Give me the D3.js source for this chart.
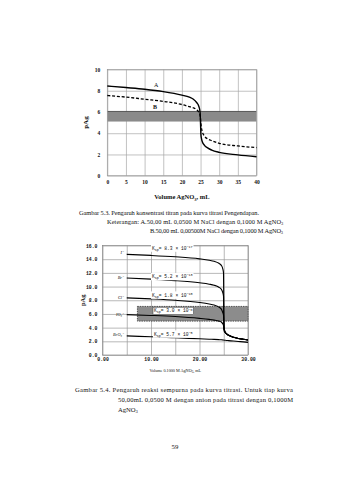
<!DOCTYPE html>
<html>
<head>
<meta charset="utf-8">
<script src="https://cdn.jsdelivr.net/npm/d3@7"></script>
<style>
  html, body { margin: 0; padding: 0; background: #fff; }
  svg { display: block; }
  text { fill: #111; }
</style>
</head>
<body>
<svg id="page" width="339" height="480"></svg>
<script>
// ---------- Figure 5.3: effect of titrant concentration ----------
const volA = [0, 5, 10, 15, 20, 22, 23, 24, 24.5, 24.8, 24.9, 25, 25.1, 25.2, 25.5, 26, 27, 28, 30, 35, 40];
const pAgA = [8.45, 8.3, 8.14, 7.92, 7.59, 7.4, 7.22, 6.87, 6.57, 6.17, 5.87, 4.87, 3.88, 3.58, 3.18, 2.88, 2.59, 2.41, 2.2, 1.96, 1.78];
const pAgB = [7.55, 7.4, 7.2, 7.0, 6.7, 6.5, 6.4, 6.2, 6.0, 5.8, 5.6, 5.3, 4.9, 4.6, 4.1, 3.75, 3.45, 3.3, 3.05, 2.8, 2.65];
const fig1XTicks = [0, 5, 10, 15, 20, 25, 30, 35, 40];
const fig1YTicks = [0, 2, 4, 6, 8, 10];
const fig1Band = [5.1, 6.05];          // indicator transition range (pAg)

// ---------- Figure 5.4: effect of reaction completeness ----------
const vol2 = [5, 10, 15, 20, 22, 23, 24, 24.5, 24.8, 24.95, 25, 25.05, 25.2, 25.5, 26, 27, 28, 29, 30];
const pAgI    = [14.7, 14.55, 14.35, 14.05, 13.85, 13.7, 13.4, 13.1, 12.6, 12.0, 8.0, 4.1, 3.5, 3.15, 2.88, 2.6, 2.42, 2.3, 2.2];
const pAgBr   = [11.25, 11.08, 10.87, 10.55, 10.35, 10.2, 9.9, 9.6, 9.1, 8.6, 6.1, 4.1, 3.5, 3.15, 2.88, 2.6, 2.42, 2.3, 2.2];
const pAgCl   = [8.35, 8.2, 8.0, 7.67, 7.45, 7.3, 7.0, 6.7, 6.2, 5.8, 4.9, 4.1, 3.5, 3.15, 2.88, 2.6, 2.42, 2.3, 2.2];
const pAgIO3  = [5.9, 5.78, 5.62, 5.35, 5.2, 5.1, 4.95, 4.8, 4.55, 4.3, 3.8, 3.55, 3.35, 3.12, 2.88, 2.6, 2.42, 2.3, 2.2];
const pAgBrO3 = [2.8, 2.66, 2.52, 2.37, 2.31, 2.28, 2.24, 2.22, 2.2, 2.19, 2.18, 2.17, 2.16, 2.13, 2.1, 2.04, 1.98, 1.92, 1.85];
const anions = ["I\u207B", "Br\u207B", "Cl\u207B", "IO\u2083\u207B", "BrO\u2083\u207B"];
const kspMantissa = ["8.3", "5.2", "1.8", "3.0", "5.7"];
const kspExponent = ["\u221217", "\u221213", "\u221210", "\u22128", "\u22125"];
const fig2XTicks = [0, 10, 20, 30];
const fig2XGrid = [0, 5, 10, 15, 20, 25, 30];
const fig2YTicks = [0, 2, 4, 6, 8, 10, 12, 14, 16];
const fig2Band = [4.95, 7.1];          // indicator transition range (pAg)
const fig2BandStart = 7.2;             // mL

const svg = d3.select("#page");
const serif = "'Liberation Serif', 'Times New Roman', serif";
const mono = "'Liberation Mono', 'DejaVu Sans Mono', monospace";

// ================= Figure 5.3 =================
{
  const x = d3.scaleLinear().domain([0, 40]).range([107.3, 256.5]);
  const y = d3.scaleLinear().domain([0, 10]).range([175.7, 69.5]);
  const g = svg.append("g");

  // grid
  g.append("g").attr("transform", `translate(0,${y(0)})`)
    .call(d3.axisBottom(x).tickValues(fig1XTicks).tickSize(-(y(0) - y(10))).tickFormat(""))
    .call(a => a.select(".domain").remove())
    .call(a => a.selectAll("line").attr("stroke", "#a8a8a8").attr("stroke-width", 0.7));
  g.append("g").attr("transform", `translate(${x(0)},0)`)
    .call(d3.axisLeft(y).tickValues(fig1YTicks).tickSize(-(x(40) - x(0))).tickFormat(""))
    .call(a => a.select(".domain").remove())
    .call(a => a.selectAll("line").attr("stroke", "#a8a8a8").attr("stroke-width", 0.7));

  // transition band
  g.append("rect")
    .attr("x", x(0)).attr("width", x(40) - x(0))
    .attr("y", y(fig1Band[1])).attr("height", y(fig1Band[0]) - y(fig1Band[1]))
    .attr("fill", "#8a8a8a");
  g.append("line")
    .attr("x1", x(0)).attr("x2", x(40))
    .attr("y1", y(fig1Band[1])).attr("y2", y(fig1Band[1]))
    .attr("stroke", "#4a4a4a").attr("stroke-width", 0.9);

  // frame
  g.append("rect").attr("x", x(0)).attr("y", y(10))
    .attr("width", x(40) - x(0)).attr("height", y(0) - y(10))
    .attr("fill", "none").attr("stroke", "#999").attr("stroke-width", 0.7);

  // tick labels
  g.append("g").attr("transform", `translate(0,${y(0)})`)
    .call(d3.axisBottom(x).tickValues(fig1XTicks).tickSize(0).tickPadding(4))
    .call(a => a.select(".domain").remove())
    .call(a => a.selectAll("text").attr("font-family", serif).attr("font-size", 5.5).attr("font-weight", "bold").attr("fill", "#111"));
  g.append("g").attr("transform", `translate(${x(0)},0)`)
    .call(d3.axisLeft(y).tickValues(fig1YTicks).tickSize(0).tickPadding(7))
    .call(a => a.select(".domain").remove())
    .call(a => a.selectAll("text").attr("font-family", serif).attr("font-size", 5.5).attr("font-weight", "bold").attr("fill", "#111"));

  // curves
  const line = d3.line().x(d => x(d[0])).y(d => y(d[1])).curve(d3.curveMonotoneX);
  g.append("path").datum(d3.zip(volA, pAgA)).attr("d", line)
    .attr("fill", "none").attr("stroke", "#000").attr("stroke-width", 1.4);
  g.append("path").datum(d3.zip(volA, pAgB)).attr("d", line)
    .attr("fill", "none").attr("stroke", "#000").attr("stroke-width", 1.3)
    .attr("stroke-dasharray", "3,1.8");

  g.append("text").attr("x", 154).attr("y", 87).attr("font-family", serif).attr("font-size", 6).text("A");
  g.append("text").attr("x", 153).attr("y", 109).attr("font-family", serif).attr("font-size", 6).attr("font-weight", "bold").text("B");

  // axis titles
  g.append("text").attr("transform", `translate(88,${(y(0) + y(10)) / 2}) rotate(-90)`)
    .attr("text-anchor", "middle").attr("font-family", serif).attr("font-size", 7).attr("font-weight", "bold").text("pAg");
  const xt = g.append("text").attr("x", (x(0) + x(40)) / 2).attr("y", 199)
    .attr("text-anchor", "middle").attr("font-family", serif).attr("font-size", 6.5).attr("font-weight", "bold");
  xt.append("tspan").text("Volume AgNO");
  xt.append("tspan").attr("font-size", 4.5).attr("dy", 1.5).text("3");
  xt.append("tspan").attr("dy", -1.5).text(", mL");
}

// caption 5.3
{
  const c = svg.append("g").attr("font-family", serif).attr("font-size", 6.4);
  c.append("text").attr("x", 79).attr("y", 215).attr("textLength", 180).attr("lengthAdjust", "spacing")
    .text("Gambar 5.3. Pengaruh konsentrasi titran pada kurva titrasi Pengendapan.");
  const l2 = c.append("text").attr("x", 107).attr("y", 224);
  l2.append("tspan").attr("textLength", 174).attr("lengthAdjust", "spacing")
    .text("Keterangan: A.50,00 mL 0,0500 M NaCl dengan 0,1000 M AgNO");
  l2.append("tspan").attr("font-size", 4.4).attr("dy", 1.3).text("3");
  const l3 = c.append("text").attr("x", 150).attr("y", 233);
  l3.append("tspan").attr("textLength", 131).attr("lengthAdjust", "spacing")
    .text("B.50,00 mL 0,00500M NaCl dengan 0,1000 M AgNO");
  l3.append("tspan").attr("font-size", 4.4).attr("dy", 1.3).text("3");
}

// ================= Figure 5.4 =================
{
  const x = d3.scaleLinear().domain([0, 30]).range([102.5, 248]);
  const y = d3.scaleLinear().domain([0, 16]).range([355, 245.5]);
  const g = svg.append("g");

  g.append("g").attr("transform", `translate(0,${y(0)})`)
    .call(d3.axisBottom(x).tickValues(fig2XGrid).tickSize(-(y(0) - y(16))).tickFormat(""))
    .call(a => a.select(".domain").remove())
    .call(a => a.selectAll("line").attr("stroke", "#9a9a9a").attr("stroke-width", 0.7));
  g.append("g").attr("transform", `translate(${x(0)},0)`)
    .call(d3.axisLeft(y).tickValues(fig2YTicks).tickSize(-(x(30) - x(0))).tickFormat(""))
    .call(a => a.select(".domain").remove())
    .call(a => a.selectAll("line").attr("stroke", "#9a9a9a").attr("stroke-width", 0.7));

  // transition band
  g.append("rect")
    .attr("x", x(fig2BandStart)).attr("width", x(30) - x(fig2BandStart))
    .attr("y", y(fig2Band[1])).attr("height", y(fig2Band[0]) - y(fig2Band[1]))
    .attr("fill", "#8c8c8c").attr("stroke", "#333").attr("stroke-width", 0.8)
    .attr("stroke-dasharray", "1.4,1");

  g.append("rect").attr("x", x(0)).attr("y", y(16))
    .attr("width", x(30) - x(0)).attr("height", y(0) - y(16))
    .attr("fill", "none").attr("stroke", "#888").attr("stroke-width", 0.7);

  g.append("g").attr("transform", `translate(0,${y(0)})`)
    .call(d3.axisBottom(x).tickValues(fig2XTicks).tickSize(0).tickPadding(3).tickFormat(d3.format(".2f")))
    .call(a => a.select(".domain").remove())
    .call(a => a.selectAll("text").attr("font-family", mono).attr("font-size", 4.8).attr("font-weight", "bold").attr("fill", "#222"));
  g.append("g").attr("transform", `translate(${x(0)},0)`)
    .call(d3.axisLeft(y).tickValues(fig2YTicks).tickSize(0).tickPadding(5).tickFormat(d3.format(".1f")))
    .call(a => a.select(".domain").remove())
    .call(a => a.selectAll("text").attr("font-family", mono).attr("font-size", 4.8).attr("font-weight", "bold").attr("fill", "#222"));

  // curves
  const series = [pAgI, pAgBr, pAgCl, pAgIO3, pAgBrO3];
  const line = d3.line().x(d => x(d[0])).y(d => y(d[1])).curve(d3.curveMonotoneX);
  series.forEach(s => {
    g.append("path").datum(d3.zip(vol2, s)).attr("d", line)
      .attr("fill", "none").attr("stroke", "#000").attr("stroke-width", 1.1);
  });

  // anion labels at the start of each curve
  const anionY = [253.5, 279, 298.5, 315.5, 336];
  anions.forEach((a, i) => {
    g.append("text").attr("x", 123).attr("y", anionY[i])
      .attr("text-anchor", "end").attr("font-family", serif).attr("font-style", "italic")
      .attr("font-size", 4.3).attr("fill", "#333").text(a);
  });

  // Ksp labels
  const kspY = [249.5, 278, 296.5, 312.3, 335.5];
  const kspX = [152, 152, 152, 154, 154];
  kspMantissa.forEach((m, i) => {
    const t = g.append("text").attr("x", kspX[i]).attr("y", kspY[i])
      .attr("font-family", mono).attr("font-size", 4.6).attr("fill", "#222");
    t.append("tspan").text("K");
    t.append("tspan").attr("font-size", 3.4).attr("dy", 1).text("sp");
    t.append("tspan").attr("dy", -1).text(`= ${m} \u00D7 10`);
    t.append("tspan").attr("font-size", 3.4).attr("dy", -1.8).text(kspExponent[i]);
    const bb = t.node().getBBox();
    g.insert("rect", () => t.node())
      .attr("x", bb.x - 1).attr("y", bb.y - 0.3)
      .attr("width", bb.width + 2).attr("height", bb.height + 0.6)
      .attr("fill", "#fff")
      .attr("stroke", i === 3 ? "#333" : "none").attr("stroke-width", 0.5);
  });

  // axis titles
  g.append("text").attr("transform", `translate(85,${(y(0) + y(16)) / 2}) rotate(-90)`)
    .attr("text-anchor", "middle").attr("font-family", serif).attr("font-size", 6.5).attr("font-weight", "bold").text("pAg");
  const xt = g.append("text").attr("x", (x(0) + x(30)) / 2).attr("y", 372)
    .attr("text-anchor", "middle").attr("font-family", serif).attr("font-size", 4.2).attr("fill", "#333");
  xt.append("tspan").text("Volume 0.1000 M AgNO");
  xt.append("tspan").attr("font-size", 3).attr("dy", 1).text("3");
  xt.append("tspan").attr("dy", -1).text(", mL");
}

// caption 5.4 (justified)
{
  const c = svg.append("g").attr("font-family", serif).attr("font-size", 6.6);
  c.append("text").attr("x", 75).attr("y", 392).attr("textLength", 218).attr("lengthAdjust", "spacing")
    .text("Gambar 5.4. Pengaruh reaksi sempurna pada kurva titrasi. Untuk tiap kurva");
  c.append("text").attr("x", 118).attr("y", 402).attr("textLength", 175).attr("lengthAdjust", "spacing")
    .text("50,00mL 0,0500 M dengan anion pada titrasi dengan 0,1000M");
  const l3 = c.append("text").attr("x", 118).attr("y", 412);
  l3.append("tspan").text("AgNO");
  l3.append("tspan").attr("font-size", 4.6).attr("dy", 1.3).text("3");
}

// page number
svg.append("text").attr("x", 175).attr("y", 449).attr("text-anchor", "middle")
  .attr("font-family", serif).attr("font-size", 6.8).text("59");
</script>
</body>
</html>
